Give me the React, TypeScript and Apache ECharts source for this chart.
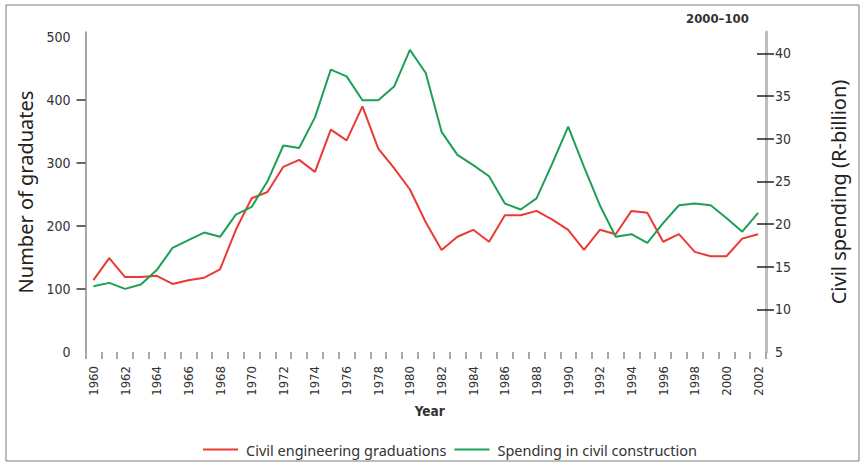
import React, { useEffect, useRef } from "react";
import * as echarts from "echarts";

const years = [
  "1960", "1961", "1962", "1963", "1964", "1965", "1966", "1967", "1968", "1969",
  "1970", "1971", "1972", "1973", "1974", "1975", "1976", "1977", "1978", "1979",
  "1980", "1981", "1982", "1983", "1984", "1985", "1986", "1987", "1988", "1989",
  "1990", "1991", "1992", "1993", "1994", "1995", "1996", "1997", "1998", "1999",
  "2000", "2001", "2002",
];

const graduates = [
  114, 149, 119, 119, 121, 108, 114, 118, 131, 194,
  244, 254, 294, 305, 286, 353, 336, 390, 323, 292,
  258, 206, 162, 183, 194, 175, 217, 217, 224, 210,
  194, 162, 194, 187, 224, 221, 175, 187, 159, 152,
  152, 180, 187,
];

const spending = [
  12.7, 13.1, 12.4, 12.9, 14.6, 17.2, 18.1, 19.0, 18.5, 21.1,
  22.0, 25.0, 29.2, 28.9, 32.5, 38.1, 37.3, 34.5, 34.5, 36.1,
  40.4, 37.7, 30.8, 28.1, 26.9, 25.6, 22.4, 21.7, 23.0, 27.1,
  31.4, 26.7, 22.2, 18.5, 18.8, 17.8, 20.1, 22.2, 22.4, 22.2,
  20.7, 19.1, 21.3,
];

const leftLabels = [0, 100, 200, 300, 400, 500];
const leftTicks = [100, 200, 300, 400];
const rightLabels = [5, 10, 15, 20, 25, 30, 35, 40];
const rightTicks = [10, 15, 20, 25, 30, 35, 40];

const NARROW = "'Liberation Sans Narrow', 'DejaVu Sans Condensed', sans-serif";
const SANS = "'Noto Sans', 'Open Sans', sans-serif";

export default function App() {
  const ref = useRef<HTMLDivElement>(null);

  useEffect(() => {
    if (!ref.current) return;
    const chart = echarts.init(ref.current, undefined, { renderer: "svg" });
    chart.setOption({
      animation: false,
      backgroundColor: "#ffffff",
      grid: { left: 85.5, right: 96, top: 32, bottom: 113, containLabel: false },
      graphic: [
        {
          type: "rect",
          shape: { x: 6, y: 5, width: 853, height: 456 },
          style: { fill: "none", stroke: "#7a7a7a", lineWidth: 1 },
          silent: true,
        },
        {
          type: "text",
          x: 686,
          y: 12,
          style: {
            text: "2000–100",
            fontFamily: NARROW,
            fontWeight: "bold",
            fontSize: 13,
            fill: "#333333",
          },
        },
      ],
      legend: {
        left: 198,
        top: 437,
        itemWidth: 35,
        itemHeight: 14,
        itemGap: 8,
        icon: "path://M0,6L35,6L35,8L0,8Z",
        textStyle: { fontFamily: SANS, fontSize: 14.5, color: "#333333", padding: [0, 0, 0, 3] },
        data: ["Civil engineering graduations", "Spending in civil construction"],
      },
      xAxis: {
        type: "category",
        data: years,
        boundaryGap: true,
        name: "Year",
        nameLocation: "middle",
        nameGap: 52,
        nameTextStyle: {
          fontFamily: NARROW,
          fontWeight: "bold",
          fontSize: 13.5,
          color: "#333333",
          padding: [0, 0, 0, 8],
        },
        axisLine: { show: false },
        axisTick: {
          show: true,
          interval: 0,
          length: 7,
          lineStyle: { color: "#a8a8a8", width: 2 },
        },
        axisLabel: {
          interval: 1,
          rotate: 90,
          margin: 14,
          fontFamily: NARROW,
          fontSize: 13,
          color: "#333333",
        },
        splitLine: { show: false },
      },
      yAxis: [
        {
          type: "value",
          position: "left",
          min: 0,
          max: 508,
          interval: 100,
          name: "Number of graduates",
          nameLocation: "middle",
          nameGap: 50,
          nameRotate: 90,
          nameTextStyle: { fontFamily: SANS, fontSize: 20, color: "#222222" },
          axisLine: { show: true, lineStyle: { color: "#8a8a8a", width: 1.5 } },
          axisTick: {
            show: true,
            length: 9,
            customValues: leftTicks,
            lineStyle: { color: "#333333", width: 1.5 },
          },
          axisLabel: {
            customValues: leftLabels,
            margin: 15,
            fontFamily: NARROW,
            fontSize: 14,
            color: "#333333",
          },
          splitLine: { show: false },
        },
        {
          type: "value",
          position: "right",
          min: 5,
          max: 42.5,
          interval: 5,
          name: "Civil spending (R-billion)",
          nameLocation: "middle",
          nameGap: 62,
          nameRotate: 90,
          nameTextStyle: { fontFamily: SANS, fontSize: 20, color: "#222222" },
          axisLine: { show: true, lineStyle: { color: "#bdbdbd", width: 3 } },
          axisTick: {
            show: true,
            inside: true,
            length: 9,
            customValues: rightTicks,
            lineStyle: { color: "#222222", width: 1.5 },
          },
          axisLabel: {
            customValues: rightLabels,
            margin: 9,
            fontFamily: NARROW,
            fontSize: 14,
            color: "#333333",
          },
          splitLine: { show: false },
        },
        {
          type: "value",
          position: "right",
          min: 5,
          max: 42.5,
          interval: 5,
          axisLine: { show: false },
          axisTick: {
            show: true,
            inside: false,
            length: 8,
            customValues: rightTicks,
            lineStyle: { color: "#222222", width: 1.5 },
          },
          axisLabel: { show: false },
          splitLine: { show: false },
        },
      ],
      series: [
        {
          name: "Civil engineering graduations",
          type: "line",
          yAxisIndex: 0,
          data: graduates,
          showSymbol: false,
          symbol: "none",
          lineStyle: { color: "#ea3a33", width: 2 },
          itemStyle: { color: "#ea3a33" },
        },
        {
          name: "Spending in civil construction",
          type: "line",
          yAxisIndex: 1,
          data: spending,
          showSymbol: false,
          symbol: "none",
          lineStyle: { color: "#1f9e55", width: 2 },
          itemStyle: { color: "#1f9e55" },
        },
      ],
    });
    return () => chart.dispose();
  }, []);

  return (
    <div
      ref={ref}
      style={{ position: "fixed", left: 0, top: 0, width: 862, height: 465 }}
    />
  );
}
